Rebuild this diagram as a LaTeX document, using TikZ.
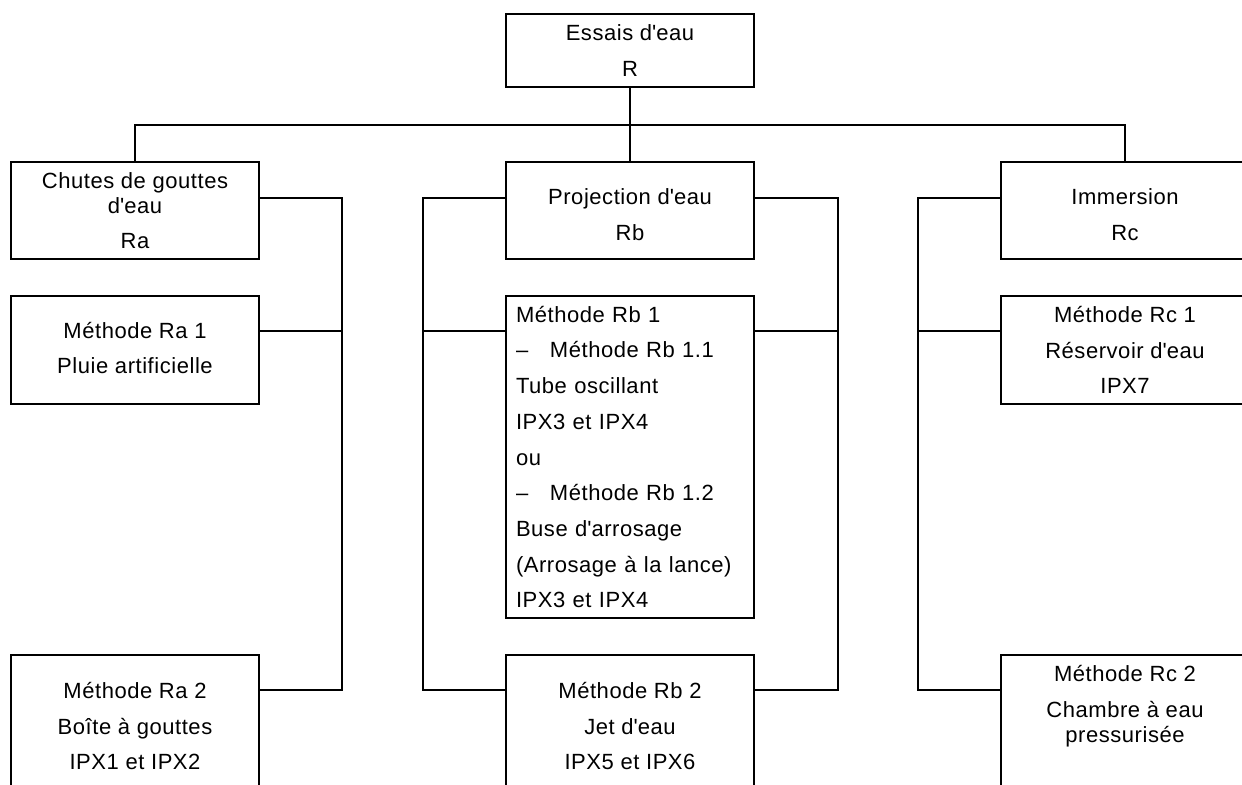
\documentclass[tikz,border=0pt]{standalone}
\usepackage{fontspec}
\setmainfont{Liberation Sans}[LetterSpace=2.5]
\newcommand{\ap}{\textquotesingle}

\tikzset{
  box/.style={draw, line width=1pt, minimum width=124pt, inner sep=0pt, align=center,
    font=\fontsize{11}{17.85}\selectfont},
  link/.style={line width=1pt},
}

\begin{document}
\begin{tikzpicture}[x=0.5pt,y=-0.5pt]
\clip (0,0) rectangle (1242,784);

% Top box and the three groups
\node[box, minimum height=36.5pt] (R) at (630,50.5) {Essais d\ap eau\\R};
\node[box, minimum height=48.5pt] (Ra) at (135,210.5) {Chutes de gouttes\\[-5.35pt]d\ap eau\\Ra};
\node[box, minimum height=48.5pt] (Rb) at (630,210.5) {\rule{0pt}{12pt}Projection d\ap eau\\Rb};
\node[box, minimum height=48.5pt] (Rc) at (1125,210.5) {\rule{0pt}{12pt}Immersion\\Rc};

% Methods, first row
\node[box, minimum height=54pt] (Ra1) at (135,350) {Méthode Ra 1\\Pluie artificielle\rule[-2pt]{0pt}{2pt}};
\node[box, minimum height=161pt, align=left, text width=114pt, inner xsep=5pt] (Rb1) at (630,457)
  {Méthode Rb 1\\
   \makebox[17pt][l]{–}Méthode Rb 1.1\\
   Tube oscillant\\
   IPX3 et IPX4\\
   ou\\
   \makebox[17pt][l]{–}Méthode Rb 1.2\\
   Buse d\ap arrosage\\
   (Arrosage à la lance)\\
   IPX3 et IPX4};
\node[box, minimum height=54pt] (Rc1) at (1125,350) {Méthode Rc 1\\Réservoir d\ap eau\\IPX7};

% Methods, second row
\node[box, minimum height=71pt] (Ra2) at (135,726) {Méthode Ra 2\\Boîte à gouttes\\IPX1 et IPX2};
\node[box, minimum height=71pt] (Rb2) at (630,726) {Méthode Rb 2\\Jet d\ap eau\\IPX5 et IPX6};
\node[box, minimum height=71pt] (Rc2) at (1125,726) {Méthode Rc 2\\Chambre à eau\\[-5.35pt]pressurisée\\[4.15pt]\mbox{}};

% Tree from the top box
\coordinate (bus) at (630,125);
\draw[link] (R) -- (Rb);
\draw[link] (Ra.north) |- (bus) -| (Rc.north);

% Side brackets to the methods
\draw[link] ([yshift=-18.5pt]Ra.north east) -- ++(41pt,0) |- ([yshift=-18pt]Ra2.north east);
\draw[link] ([yshift=-18pt]Ra1.north east) -- ++(41pt,0);

\draw[link] ([yshift=-18.5pt]Rb.north west) -- ++(-41pt,0) |- ([yshift=-18pt]Rb2.north west);
\draw[link] ([yshift=-18pt]Rb1.north west) -- ++(-41pt,0);
\draw[link] ([yshift=-18.5pt]Rb.north east) -- ++(41.5pt,0) |- ([yshift=-18pt]Rb2.north east);
\draw[link] ([yshift=-18pt]Rb1.north east) -- ++(41.5pt,0);

\draw[link] ([yshift=-18.5pt]Rc.north west) -- ++(-41pt,0) |- ([yshift=-18pt]Rc2.north west);
\draw[link] ([yshift=-18pt]Rc1.north west) -- ++(-41pt,0);
\end{tikzpicture}
\end{document}
